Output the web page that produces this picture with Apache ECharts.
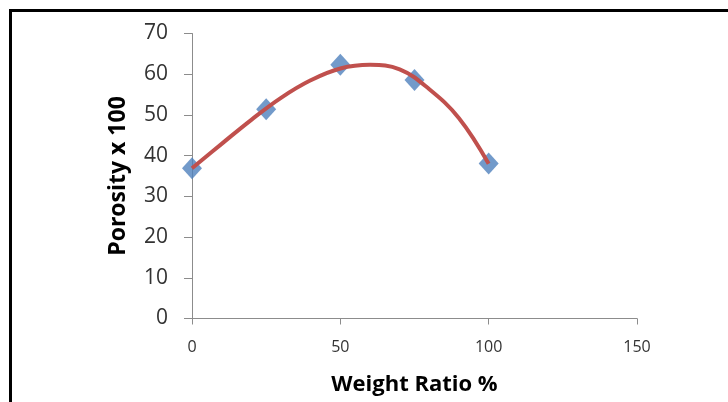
<!DOCTYPE html>
<html>
<head>
<meta charset="utf-8">
<script src="https://cdn.jsdelivr.net/npm/echarts@6/dist/echarts.min.js"></script>
<style>
  html, body { margin: 0; padding: 0; background: #fff; }
  #main { width: 728px; height: 402px; }
  .frame {
    position: absolute; left: 9px; top: 9px; right: 0; bottom: 0;
    border-left: 3px solid #000; border-top: 3px solid #000;
    pointer-events: none;
  }
</style>
</head>
<body>
<div id="main"></div>
<div class="frame"></div>
<script>
// measured points: weight ratio (%) and porosity (x100)
const weightRatio = [0, 25, 50, 75, 100];
const porosity = [36.9, 51.4, 62.3, 58.6, 38.1];

// red trend curve, values every 10 %
const trendX = [0, 10, 20, 30, 40, 50, 60, 70, 80, 90, 100];
const trendY = [36.9, 42.9, 48.8, 54.2, 58.5, 61.4, 62.3, 61.2, 56.3, 49.2, 38.0];

const points = weightRatio.map((x, i) => [x, porosity[i]]);
const trend = trendX.map((x, i) => [x, trendY[i]]);

const chart = echarts.init(document.getElementById("main"));

chart.setOption({
  backgroundColor: "#fff",
  animation: false,
  grid: {
    left: 192,
    right: 91,
    top: 33.5,
    bottom: 83.5
  },
  xAxis: {
    type: "value",
    min: 0,
    max: 150,
    interval: 50,
    name: "Weight Ratio %",
    nameLocation: "middle",
    nameGap: 55,
    nameTextStyle: {
      fontFamily: "Open Sans",
      fontSize: 22,
      fontWeight: "bold",
      color: "#000"
    },
    axisLine: { show: true, onZero: false, lineStyle: { color: "#8c8c8c", width: 1 } },
    axisTick: { show: true, length: 6, lineStyle: { color: "#8c8c8c" } },
    axisLabel: { margin: 21, fontFamily: "Open Sans", fontSize: 16, color: "#333" },
    splitLine: { show: false }
  },
  yAxis: {
    type: "value",
    min: 0,
    max: 70,
    interval: 10,
    name: "Porosity x 100",
    nameLocation: "middle",
    nameGap: 62,
    nameTextStyle: {
      fontFamily: "Open Sans",
      fontSize: 23,
      fontWeight: "bold",
      color: "#000"
    },
    axisLine: { show: true, lineStyle: { color: "#8c8c8c", width: 1 } },
    axisTick: { show: true, length: 8, lineStyle: { color: "#8c8c8c" } },
    axisLabel: { margin: 24, fontFamily: "Open Sans", fontSize: 21, color: "#333" },
    splitLine: { show: false }
  },
  series: [
    {
      name: "points",
      type: "scatter",
      data: points,
      symbol: "diamond",
      symbolSize: [20, 22],
      itemStyle: { color: "#4F81BD" },
      z: 2
    },
    {
      name: "trend",
      type: "line",
      data: trend,
      smooth: 0.4,
      symbol: "none",
      lineStyle: { color: "#C0504D", width: 4 },
      z: 3
    }
  ]
});
</script>
</body>
</html>
